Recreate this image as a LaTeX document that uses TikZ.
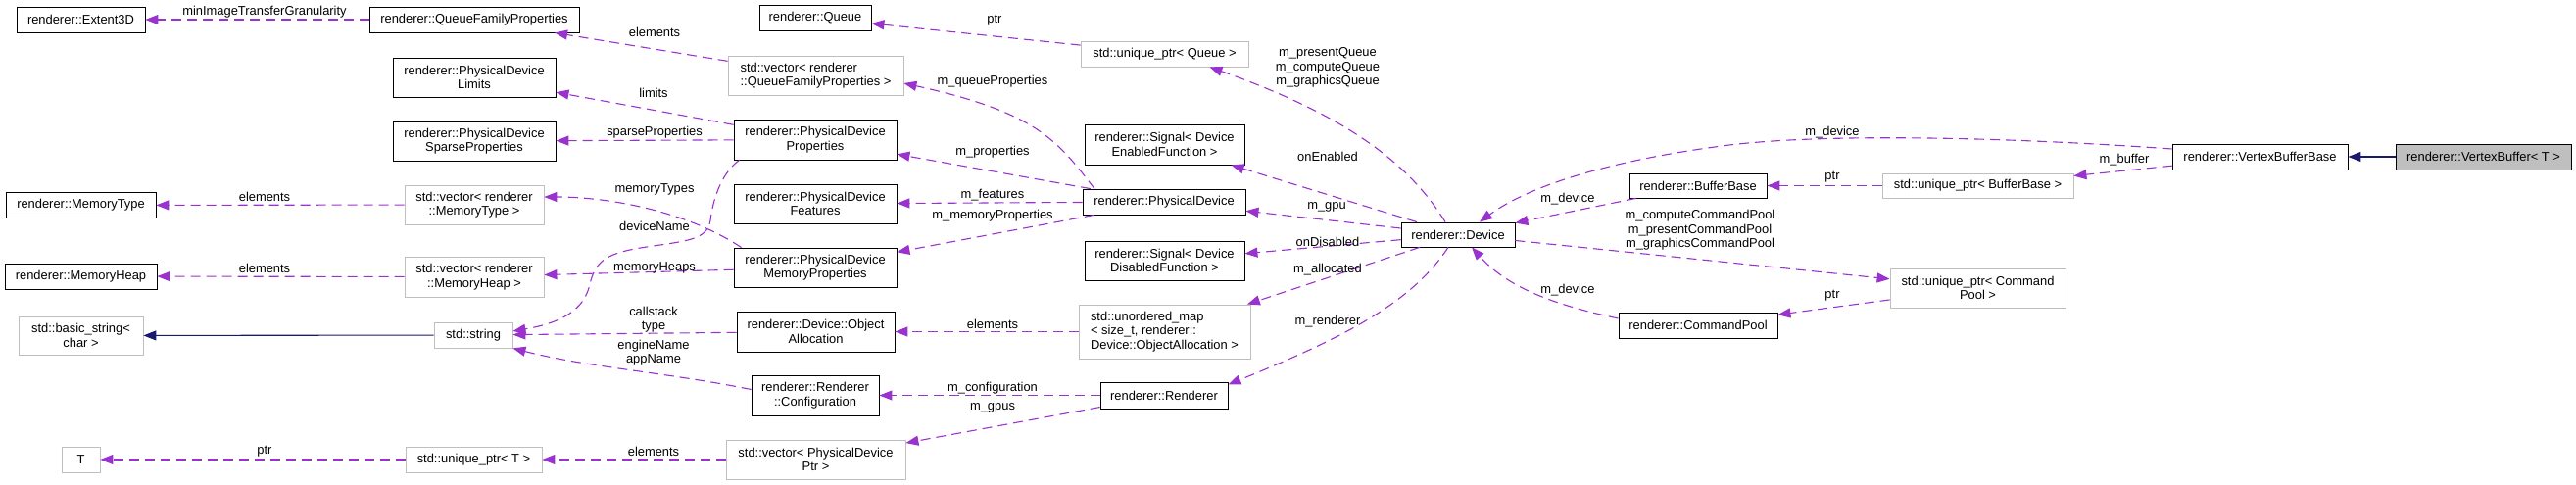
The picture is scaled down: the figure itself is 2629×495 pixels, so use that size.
\documentclass[tikz,border=0pt]{standalone}
\usepackage{fontspec}
\setmainfont{Liberation Sans}
\usetikzlibrary{arrows.meta}
\definecolor{edgepurple}{HTML}{9A32CD}
\definecolor{inhblue}{HTML}{191970}
\definecolor{greybox}{HTML}{BFBFBF}
\newcommand\dxfont{\fontsize{12.9pt}{14.5pt}\selectfont}
\begin{document}
\begin{tikzpicture}[x=1pt,y=-1pt,
  every node/.style={font=\dxfont},
  cls/.style={draw=black, line width=0.85pt, fill=white, inner sep=0pt, align=center},
  extcls/.style={cls, draw=greybox},
  curcls/.style={cls, fill=greybox},
  lbl/.style={inner sep=0pt, align=center},
  uses/.style={draw=edgepurple, line width=1.1pt, dash pattern=on 10pt off 6pt,
    -{Triangle[length=13pt,width=10pt]}, fill=none},
  inh/.style={draw=inhblue, line width=1.1pt, -{Triangle[length=13pt,width=10pt]}}
]
\useasboundingbox (0,0) rectangle (2629,495);
\fill[white] (0,0) rectangle (2629,495);

% ---------- nodes ----------
\node[cls, minimum width=131pt, minimum height=26pt] (ext) at (82.5,20) {renderer::Extent3D};
\node[cls, minimum width=214pt, minimum height=26pt] (qfp) at (484,20) {renderer::QueueFamilyProperties};
\node[cls, minimum width=166pt, minimum height=40pt] (lim) at (484,79) {renderer::PhysicalDevice\\Limits};
\node[cls, minimum width=166pt, minimum height=40pt] (spa) at (484,144) {renderer::PhysicalDevice\\SparseProperties};
\node[cls, minimum width=153pt, minimum height=26pt] (mty) at (82.5,209.5) {renderer::MemoryType};
\node[extcls, minimum width=142pt, minimum height=40pt] (vmt) at (484,209) {std::vector< renderer\\::MemoryType >};
\node[cls, minimum width=155pt, minimum height=26pt] (mhp) at (82.5,282) {renderer::MemoryHeap};
\node[extcls, minimum width=142pt, minimum height=41pt] (vmh) at (484,282.5) {std::vector< renderer\\::MemoryHeap >};
\node[extcls, minimum width=127pt, minimum height=39pt] (bstr) at (82.5,342.5) {std::basic\_string<\\char >};
\node[extcls, minimum width=80pt, minimum height=26pt] (str) at (483,342) {std::string};
\node[extcls, minimum width=39pt, minimum height=26pt] (tt) at (82.5,469) {T};
\node[extcls, minimum width=139pt, minimum height=26pt] (upt) at (483.5,469) {std::unique\_ptr< T >};
\node[cls, minimum width=114pt, minimum height=26pt] (que) at (832,18) {renderer::Queue};
\node[extcls, minimum width=179pt, minimum height=40pt, align=left] (vqfp) at (832.5,77) {std::vector< renderer\\::QueueFamilyProperties >};
\node[cls, minimum width=166pt, minimum height=41pt] (pdp) at (832,142.5) {renderer::PhysicalDevice\\Properties};
\node[cls, minimum width=166pt, minimum height=40pt] (pdf) at (832,208) {renderer::PhysicalDevice\\Features};
\node[cls, minimum width=166pt, minimum height=40pt] (pdm) at (832,273) {renderer::PhysicalDevice\\MemoryProperties};
\node[cls, minimum width=161pt, minimum height=41pt] (oal) at (832.5,338.5) {renderer::Device::Object\\Allocation};
\node[cls, minimum width=130pt, minimum height=41pt] (rcf) at (832,403.5) {renderer::Renderer\\::Configuration};
\node[extcls, minimum width=183pt, minimum height=40pt] (vpd) at (832.5,469) {std::vector< PhysicalDevice\\Ptr >};
\node[extcls, minimum width=171pt, minimum height=26pt] (uq) at (1188.5,55) {std::unique\_ptr< Queue >};
\node[cls, minimum width=163pt, minimum height=41pt] (sge) at (1188.5,147.5) {renderer::Signal< Device\\EnabledFunction >};
\node[cls, minimum width=166pt, minimum height=26pt] (pd) at (1188,206) {renderer::PhysicalDevice};
\node[cls, minimum width=163pt, minimum height=40pt] (sgd) at (1188.5,266) {renderer::Signal< Device\\DisabledFunction >};
\node[extcls, minimum width=175pt, minimum height=55pt, align=left] (umap) at (1188.5,338.5) {std::unordered\_map\\< size\_t, renderer::\\Device::ObjectAllocation >};
\node[cls, minimum width=130pt, minimum height=27pt] (ren) at (1188,403.5) {renderer::Renderer};
\node[cls, minimum width=116pt, minimum height=25pt] (dev) at (1488,239.5) {renderer::Device};
\node[cls, minimum width=140pt, minimum height=25pt] (bb) at (1733,189.5) {renderer::BufferBase};
\node[cls, minimum width=162pt, minimum height=26pt] (cp) at (1733,332) {renderer::CommandPool};
\node[extcls, minimum width=195pt, minimum height=25pt] (ubb) at (2018.5,189.5) {std::unique\_ptr< BufferBase >};
\node[extcls, minimum width=179pt, minimum height=40pt] (ucp) at (2018.5,294) {std::unique\_ptr< Command\\Pool >};
\node[cls, minimum width=179pt, minimum height=26pt] (vbb) at (2306.5,160) {renderer::VertexBufferBase};
\node[curcls, minimum width=179pt, minimum height=26pt] (vb) at (2534.5,160) {renderer::VertexBuffer< T >};

% ---------- edges ----------
\draw[uses] (qfp) -- (ext);
\draw[uses] (vqfp) -- (qfp);
\draw[uses] (pdp) -- (lim);
\draw[uses] (pdp) -- (spa);
\draw[uses] ([xshift=8pt]pdm.north west) .. controls (700,215) and (620,201) .. ([yshift=8pt]vmt.east);
\draw[uses] (vmt) -- (mty);
\draw[uses] (pdm) -- (vmh);
\draw[uses] (vmh) -- (mhp);
\draw[inh] (str) -- (bstr);
\draw[uses] ([xshift=6pt]pdp.south west) .. controls (738,175) and (728,200) .. (725,225)
  .. controls (722,245) and (700,246) .. (660,252)
  .. controls (620,258) and (608,265) .. (602,290)
  .. controls (596,318) and (570,330) .. ([yshift=4pt]str.east);
\draw[uses] (oal) -- (str);
\draw[uses] ([yshift=6pt]rcf.west) .. controls (680,380) and (600,375) .. (str.south east);
\draw[uses] (vpd) -- (upt);
\draw[uses] (upt) -- (tt);
\draw[uses] (uq) -- (que);
\draw[uses] ([xshift=-71pt]pd.north) .. controls (1080,145) and (1060,115) .. ([yshift=-8pt]vqfp.east);
\draw[uses] (pd) -- (pdp);
\draw[uses] (pd) -- (pdf);
\draw[uses] (pd) -- (pdm);
\draw[uses] ([xshift=-13pt]dev.north) .. controls (1440,170) and (1380,120) .. ([xshift=46pt]uq.south);
\draw[uses] (dev) -- (sge);
\draw[uses] (dev) -- (pd);
\draw[uses] (dev) -- (sgd);
\draw[uses] (dev) -- (umap);
\draw[uses] ([xshift=-10pt]dev.south) .. controls (1440,310) and (1370,345) .. ([yshift=11pt]ren.east);
\draw[uses] (bb) -- (dev);
\draw[uses] ([yshift=8pt]vbb.west) .. controls (2050,140) and (1850,135) .. (1750,150)
  .. controls (1640,165) and (1560,190) .. ([xshift=22pt]dev.north);
\draw[uses] (dev) -- (ucp);
\draw[uses] ([yshift=7pt]cp.west) .. controls (1590,312) and (1540,295) .. ([xshift=14pt]dev.south);
\draw[uses] (ucp) -- (cp);
\draw[uses] (ubb) -- (bb);
\draw[uses] (vbb) -- (ubb);
\draw[inh] (vb) -- (vbb);
\draw[uses] (umap) -- (oal);
\draw[uses] (ren) -- (rcf);
\draw[uses] (ren) -- (vpd);

% ---------- labels ----------
\node[lbl] (t1) at (270,12) {minImageTransferGranularity};
\node[lbl] (t2) at (668,33) {elements};
\node[lbl] (t3) at (667,95) {limits};
\node[lbl] (t4) at (668,135) {sparseProperties};
\node[lbl] (t5) at (668,193) {memoryTypes};
\node[lbl] (t6) at (270,201) {elements};
\node[lbl] (t7) at (668,273) {memoryHeaps};
\node[lbl] (t8) at (270,274) {elements};
\node[lbl] (t9) at (668,231) {deviceName};
\node[lbl] (t10) at (667,326) {callstack\\type};
\node[lbl] (t11) at (667,360) {engineName\\appName};
\node[lbl] (t12) at (667,461) {elements};
\node[lbl] (t13) at (270,461) {ptr};
\node[lbl] (t14) at (1015,21) {ptr};
\node[lbl] (t15) at (1013,83) {m\_queueProperties};
\node[lbl] (t16) at (1013,155) {m\_properties};
\node[lbl] (t17) at (1013,199) {m\_features};
\node[lbl] (t18) at (1013,220) {m\_memoryProperties};
\node[lbl] (t19) at (1355,69) {m\_presentQueue\\m\_computeQueue\\m\_graphicsQueue};
\node[lbl] (t20) at (1355,160) {onEnabled};
\node[lbl] (t21) at (1354,211) {m\_gpu};
\node[lbl] (t22) at (1355,247) {onDisabled};
\node[lbl] (t23) at (1355,275) {m\_allocated};
\node[lbl] (t24) at (1355,328) {m\_renderer};
\node[lbl] (t25) at (1013,331) {elements};
\node[lbl] (t26) at (1013,396) {m\_configuration};
\node[lbl] (t27) at (1013,416) {m\_gpus};
\node[lbl] (t28) at (1600,203) {m\_device};
\node[lbl] (t29) at (1870,135) {m\_device};
\node[lbl] (t30) at (1735,235) {m\_computeCommandPool\\m\_presentCommandPool\\m\_graphicsCommandPool};
\node[lbl] (t31) at (1600,296) {m\_device};
\node[lbl] (t32) at (1870,181) {ptr};
\node[lbl] (t33) at (1870,302) {ptr};
\node[lbl] (t34) at (2168,163) {m\_buffer};
\end{tikzpicture}
\end{document}
